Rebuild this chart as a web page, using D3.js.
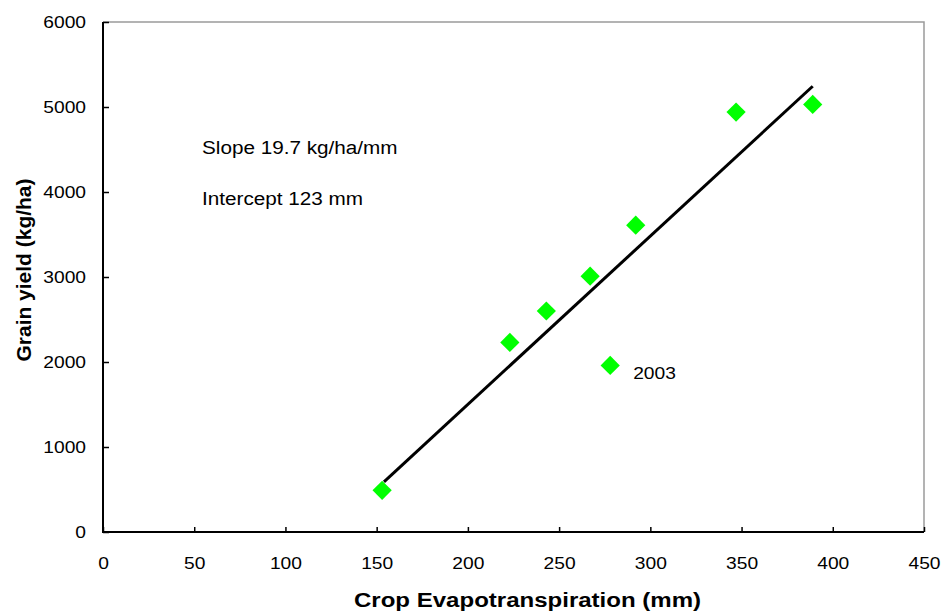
<!DOCTYPE html>
<html>
<head>
<meta charset="utf-8">
<script src="https://cdn.jsdelivr.net/npm/d3@7"></script>
<style>
  body { margin: 0; background: #fff; }
  text { font-family: "Liberation Sans", Arial, sans-serif; fill: #000; }
</style>
</head>
<body>
<svg id="chart"></svg>
<script>
// crop ET (mm) vs grain yield (kg/ha)
const etValues = [153, 223, 243, 267, 278, 292, 347, 389]
const yieldValues = [490, 2230, 2600, 3010, 1960, 3610, 4940, 5030]
const pointYears = ['', '', '', '', '2003', '', '', '']

// fitted line end points
const fitEt = [154, 389]
const fitYield = [590, 5244]

const xTicks = [0, 50, 100, 150, 200, 250, 300, 350, 400, 450]
const yTicks = [0, 1000, 2000, 3000, 4000, 5000, 6000]
const notes = ['Slope 19.7 kg/ha/mm', 'Intercept 123 mm']

let width = 943
let height = 613
let margin = {top: 22, right: 19, bottom: 81, left: 103}

let svg = d3.select('#chart')
    .attr('width', width)
    .attr('height', height)

let xScale = d3.scaleLinear()
    .domain([0, 450])
    .range([margin.left, width - margin.right])

let yScale = d3.scaleLinear()
    .domain([0, 6000])
    .range([height - margin.bottom, margin.top])

// the reference text looks a bit wider than normal, stretch it
let stretch = (sel, k) => {
    sel.each(function () {
        let w = this.getComputedTextLength()
        d3.select(this)
            .attr('textLength', w * k)
            .attr('lengthAdjust', 'spacingAndGlyphs')
    })
}

// frame: top and right grey
svg.append('path')
    .attr('d', 'M' + xScale(0) + ',' + yScale(6000) + 'H' + xScale(450) + 'V' + yScale(0))
    .attr('fill', 'none')
    .attr('stroke', '#9a9a9a')
    .attr('stroke-width', 1.5)

let xAxis = d3.axisBottom(xScale)
    .tickValues(xTicks)
    .tickFormat(d3.format('d'))
    .tickSizeInner(-5)
    .tickSizeOuter(0)
    .tickPadding(25)
let gx = svg.append('g')
    .attr('transform', 'translate(0,' + yScale(0) + ')')
    .call(xAxis)
gx.select('.domain').remove()
gx.selectAll('.tick line').attr('stroke', '#000').attr('stroke-width', 1.5)
gx.selectAll('.tick text')
    .style('font-size', '17px')
    .style('font-family', '"Liberation Sans", Arial, sans-serif')
    .call(stretch, 1.13)

let yAxis = d3.axisLeft(yScale)
    .tickValues(yTicks)
    .tickFormat(d3.format('d'))
    .tickSizeInner(-6)
    .tickSizeOuter(0)
    .tickPadding(17)
let gy = svg.append('g')
    .attr('transform', 'translate(' + xScale(0) + ',0)')
    .call(yAxis)
gy.select('.domain').remove()
gy.selectAll('.tick line').attr('stroke', '#000').attr('stroke-width', 1.5)
gy.selectAll('.tick text')
    .style('font-size', '17px')
    .style('font-family', '"Liberation Sans", Arial, sans-serif')
    .call(stretch, 1.13)

// left and bottom axis lines black
svg.append('path')
    .attr('d', 'M' + xScale(0) + ',' + yScale(6000) + 'V' + yScale(0) + 'H' + xScale(450))
    .attr('fill', 'none')
    .attr('stroke', '#000')
    .attr('stroke-width', 2)

// regression line
let fitLine = d3.line()
    .x((d, i) => xScale(fitEt[i]))
    .y((d, i) => yScale(fitYield[i]))
svg.append('path')
    .datum(fitEt)
    .attr('d', fitLine)
    .attr('stroke', '#000')
    .attr('stroke-width', 3)
    .attr('fill', 'none')

// points
let diamond = d3.symbol().type(d3.symbolSquare).size(185)
svg.selectAll('.pt')
    .data(etValues)
    .enter()
    .append('path')
    .attr('class', 'pt')
    .attr('d', diamond)
    .attr('fill', '#00ff00')
    .attr('transform', (d, i) => 'translate(' + xScale(d) + ',' + yScale(yieldValues[i]) + ') rotate(45)')

svg.selectAll('.yr')
    .data(etValues.filter((d, i) => pointYears[i] !== ''))
    .enter()
    .append('text')
    .attr('class', 'yr')
    .attr('x', d => xScale(d) + 23)
    .attr('y', d => yScale(yieldValues[etValues.indexOf(d)]) + 14)
    .style('font-size', '17px')
    .text(d => pointYears[etValues.indexOf(d)])
    .call(stretch, 1.13)

// slope / intercept notes
svg.selectAll('.note')
    .data(notes)
    .enter()
    .append('text')
    .attr('class', 'note')
    .attr('x', 202)
    .attr('y', (d, i) => 154 + i * 51)
    .style('font-size', '18px')
    .text(d => d)
    .call(stretch, 1.15)

// axis titles
svg.append('text')
    .attr('x', (xScale(0) + xScale(450)) / 2 + 14)
    .attr('y', 607)
    .attr('text-anchor', 'middle')
    .style('font-size', '20px')
    .style('font-weight', 'bold')
    .attr('textLength', 347)
    .attr('lengthAdjust', 'spacingAndGlyphs')
    .text('Crop Evapotranspiration (mm)')

svg.append('text')
    .attr('transform', 'translate(31,270) rotate(-90)')
    .attr('text-anchor', 'middle')
    .style('font-size', '20px')
    .style('font-weight', 'bold')
    .attr('textLength', 183)
    .attr('lengthAdjust', 'spacingAndGlyphs')
    .text('Grain yield (kg/ha)')
</script>
</body>
</html>
